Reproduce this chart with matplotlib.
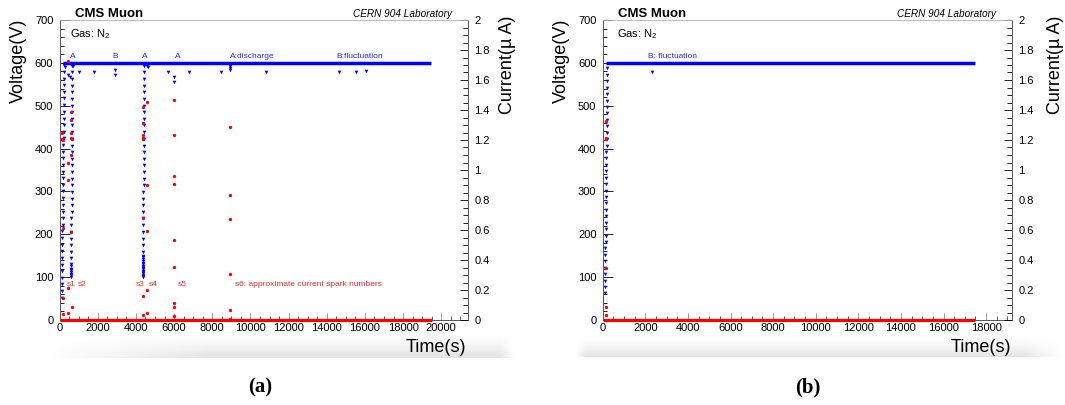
import numpy as np
import matplotlib.pyplot as plt
from matplotlib.ticker import MultipleLocator, FormatStrFormatter

plt.rcParams['font.family'] = ['Liberation Sans', 'DejaVu Sans']
plt.rcParams['mathtext.fontset'] = 'custom'
plt.rcParams['mathtext.rm'] = 'Liberation Sans'

W, H = 1065, 405

# ---------------- panel (a) data ----------------
a_flat_t = [200, 19480]
a_flat_v = [600, 600]
a_zero_t = [0, 19500]
a_zero_i = [0, 0]

# ramp up at start
a_ramp_t = [110, 114, 118, 122, 126, 130, 134, 138, 142, 146, 150, 154, 158, 162, 166, 170, 174, 178,
            182, 186, 190, 194, 198, 202, 206, 210, 214, 218, 222, 226, 230, 234, 238, 242, 246, 250]
a_ramp_v = [52, 68, 83, 98, 114, 129, 145, 160, 176, 191, 207, 222, 238, 253, 269, 284, 300, 315,
            331, 346, 362, 377, 393, 408, 424, 439, 455, 470, 486, 501, 517, 532, 548, 563, 579, 594]

# recovery after discharge near 600 s
a_rec1_t = [600, 601, 602, 603, 604, 605, 606, 607, 610, 612, 614, 616, 618, 620, 622, 624, 626, 628, 630,
            632, 634, 636, 638, 640, 642, 644, 646, 648, 650, 652, 654, 656, 658, 660, 662, 664, 666, 668]
a_rec1_v = [100, 104, 108, 112, 116, 120, 125, 130, 144, 159, 175, 190, 206, 221, 237, 252, 268, 283, 299,
            314, 330, 345, 361, 376, 392, 407, 423, 438, 454, 469, 485, 500, 516, 531, 547, 562, 578, 592]

# recovery after discharge near 4400 s
a_rec2_t = [4360, 4361, 4362, 4363, 4364, 4365, 4366, 4367, 4368, 4369, 4370, 4371, 4372, 4373, 4374,
            4375, 4377, 4379, 4381, 4383, 4385, 4387, 4389, 4391, 4393, 4395, 4397, 4399, 4401, 4403,
            4405, 4407, 4409, 4411, 4413, 4415, 4417, 4419, 4421, 4423, 4425, 4427, 4429, 4431, 4433]
a_rec2_v = [100, 103, 106, 109, 112, 115, 118, 121, 124, 127, 130, 134, 138, 142, 146,
            150, 159, 175, 190, 206, 221, 237, 252, 268, 283, 299, 314, 330, 345, 361,
            376, 392, 407, 423, 438, 454, 469, 485, 500, 516, 531, 547, 562, 578, 592]

# isolated voltage drops (A: discharge, B: fluctuation)
a_drop_t = [300, 450, 560, 700, 1015, 1820, 2900, 2900, 4560, 4620, 5660, 5990, 6000, 6770,
            8450, 8920, 8920, 8920, 10790, 14640, 15520, 16040]
a_drop_v = [591, 572, 566, 593, 579, 579, 583, 571, 593, 590, 579, 568, 556, 579,
            579, 593, 588, 583, 579, 579, 579, 580]

# current sparks (uA)
a_cur_t = [450, 110, 120, 170, 200, 460, 460, 190, 190, 460, 630, 190, 460,
           620, 620, 620, 620, 630, 620, 620,
           4380, 4380, 4380, 4370, 4390, 4380, 4380, 4380, 4380,
           4600, 4600, 4600, 4600, 4600,
           6000, 6000, 6000, 6020, 6000, 6000, 6000, 6010, 6000,
           8950, 8950, 8950, 8950, 8950, 8950]
a_cur_i = [1.727, 1.249, 1.205, 1.21, 1.2, 1.044, 0.933, 0.611, 0.144, 0.211, 0.089, 0.04, 0.05,
           1.389, 1.333, 1.249, 1.211, 1.205, 1.1, 0.589,
           1.422, 1.316, 1.233, 1.211, 1.205, 1.215, 0.678, 0.16, 0.033,
           1.456, 0.9, 0.596, 0.2, 0.044,
           1.467, 1.233, 0.96, 0.907, 0.533, 0.356, 0.116, 0.084, 0.03,
           1.289, 0.833, 0.673, 0.305, 0.067, 0.01]

a_vlab = ['A', 'B', 'A', 'A', 'A:discharge', 'B:fluctuation']
a_vlab_t = [545, 2780, 4300, 6040, 8920, 14510]
a_slab = ['s1', 's2', 's3', 's4', 's5', 's6: approximate current spark numbers']
a_slab_t = [370, 950, 3980, 4680, 6215, 9180]

# ---------------- panel (b) data ----------------
b_flat_t = [160, 17500]
b_flat_v = [600, 600]
b_zero_t = [0, 17480]
b_zero_i = [0, 0]
b_ramp_t = [110, 113, 116, 119, 122, 125, 128, 131, 134, 137, 140, 143, 146, 149, 152, 155, 158, 161,
            164, 167, 170, 173, 176, 179, 182, 185, 188, 191, 194, 197, 200, 203, 206, 209, 212, 215]
b_ramp_v = [62, 77, 92, 107, 122, 137, 152, 167, 182, 197, 212, 227, 242, 257, 272, 287, 302, 317,
            332, 347, 362, 377, 392, 407, 422, 437, 452, 467, 482, 497, 512, 527, 542, 557, 572, 587]
b_drop_t = [2300]
b_drop_v = [579]
b_cur_t = [160, 150, 165, 170, 160, 160, 160]
b_cur_i = [1.329, 1.215, 1.21, 1.205, 0.344, 0.089, 0.031]
b_vlab = ['B: fluctuation']
b_vlab_t = [2145]

BLUE = '#0000ff'
RED = '#ff0000'

fig = plt.figure(figsize=(W / 100, H / 100), dpi=100)


def band(x0, x1, y0, y1, fl, fr):
    bx = fig.add_axes([x0 / W, 1 - y1 / H, (x1 - x0) / W, (y1 - y0) / H], zorder=-1)
    vert = np.linspace(0, 1, 40)[:, None] ** 1.3
    xx = np.linspace(0, 1, 300)[None, :]
    hor = np.clip(xx / fl, 0, 1) * np.clip((1 - xx) / fr, 0, 1)
    bx.imshow(1 - 0.11 * vert * hor, cmap='gray', vmin=0, vmax=1, aspect='auto')
    bx.axis('off')


def panel(x0, x1, xmax, volt, cur, vlab, vlab_t, slab, slab_t, gas_x, ylab_x, ilab_x):
    ax = fig.add_axes([x0 / W, 85 / H, (x1 - x0) / W, 300 / H], zorder=1)
    ax2 = ax.twinx()
    ax.set_xlim(0, xmax)
    ax.set_ylim(0, 700)
    ax2.set_ylim(0, 2)

    for t, v in volt[:-1]:
        ax.plot(t, v, 'v', color=BLUE, ms=2.6, mew=0, clip_on=False)
    ft, fv = volt[-1]
    ax.plot(ft, fv, '-', color=BLUE, lw=2.5, solid_capstyle='butt')
    for t, i in cur[:-1]:
        ax2.plot(t, i, 'o', color=RED, ms=2.4, mew=0)
    zt, zi = cur[-1]
    ax2.plot(zt, zi, '-', color=RED, lw=2.3, clip_on=False, solid_capstyle='butt')

    for s, t in zip(vlab, vlab_t):
        ax.text(t, 611, s, color='#2a2aee', fontsize=6, va='baseline')
    for s, t in zip(slab, slab_t):
        ax.text(t, 80, s, color='#ee2a2a', fontsize=6, va='baseline')

    ax.xaxis.set_major_locator(MultipleLocator(2000))
    ax.xaxis.set_minor_locator(MultipleLocator(500))
    ax.yaxis.set_major_locator(MultipleLocator(100))
    ax.yaxis.set_minor_locator(MultipleLocator(20))
    ax2.yaxis.set_major_locator(MultipleLocator(0.2))
    ax2.yaxis.set_minor_locator(MultipleLocator(0.05))
    ax2.yaxis.set_major_formatter(FormatStrFormatter('%g'))

    ax.tick_params(axis='x', which='major', direction='in', length=4.8, width=0.6,
                   pad=2.5, labelsize=8, color='#888888')
    ax.tick_params(axis='x', which='minor', direction='in', length=2.8, width=0.6, color='#444444')
    ax.tick_params(axis='y', which='major', direction='in', length=7, width=0.6, pad=4.5, labelsize=8)
    ax.tick_params(axis='y', which='minor', direction='in', length=3, width=0.6)
    ax.tick_params(right=False, top=False, which='both')
    ax2.tick_params(axis='y', which='major', direction='in', length=5.5, width=0.6, pad=4.5, labelsize=8)
    ax2.tick_params(axis='y', which='minor', direction='in', length=3.5, width=0.6)

    for sp in ['top', 'right']:
        ax.spines[sp].set_visible(False)
    for sp in ['left', 'bottom']:
        ax2.spines[sp].set_visible(False)
    ax2.spines['top'].set_color('#b0b0b0')
    ax2.spines['top'].set_linewidth(0.6)
    for sp in ['left', 'bottom']:
        ax.spines[sp].set_linewidth(0.7)
        ax.spines[sp].set_color('#555555')
    ax2.spines['right'].set_linewidth(0.7)
    ax2.spines['right'].set_color('#555555')

    ax.text(0.037, 1.011, 'CMS Muon', transform=ax.transAxes, fontsize=9.5,
            fontweight='bold', va='baseline')
    ax.text(0.96, 1.009, 'CERN 904 Laboratory', transform=ax.transAxes, fontsize=7.2,
            style='italic', ha='right', va='baseline')
    ax.text(gas_x, 0.943, r'Gas: N$_{\mathrm{2}}$', transform=ax.transAxes, fontsize=8,
            va='baseline')

    fig.text(ylab_x / W, 1 - 19 / H, 'Voltage(V)', rotation=90, ha='center', va='top', fontsize=13)
    fig.text(ilab_x / W, 1 - 16 / H, 'Current(\u00b5 A)', rotation=90, ha='center', va='top',
             fontsize=13)
    fig.text((x1 - 1.5) / W, 1 - 348 / H, 'Time(s)', ha='right', va='center', fontsize=13)
    return ax


band(45, 515, 333, 358, 0.35, 0.03)
band(575, 1062, 337, 357, 0.02, 0.08)

panel(59.6, 468, 21400,
      [(a_ramp_t, a_ramp_v), (a_rec1_t, a_rec1_v), (a_rec2_t, a_rec2_v),
       (a_drop_t, a_drop_v), (a_flat_t, a_flat_v)],
      [(a_cur_t, a_cur_i), (a_zero_t, a_zero_i)],
      a_vlab, a_vlab_t, a_slab, a_slab_t, 0.0255, 18, 508)

panel(602.7, 1012.3, 19230,
      [(b_ramp_t, b_ramp_v), (b_drop_t, b_drop_v), (b_flat_t, b_flat_v)],
      [(b_cur_t, b_cur_i), (b_zero_t, b_zero_i)],
      b_vlab, b_vlab_t, [], [], 0.034, 561, 1055)

fig.text(260 / W, 1 - 387 / H, '(a)', family=['Liberation Serif', 'DejaVu Serif'],
         fontweight='bold', fontsize=15, ha='center', va='center')
fig.text(808 / W, 1 - 387 / H, '(b)', family=['Liberation Serif', 'DejaVu Serif'],
         fontweight='bold', fontsize=15, ha='center', va='center')

fig.savefig('out.png', dpi=100)
